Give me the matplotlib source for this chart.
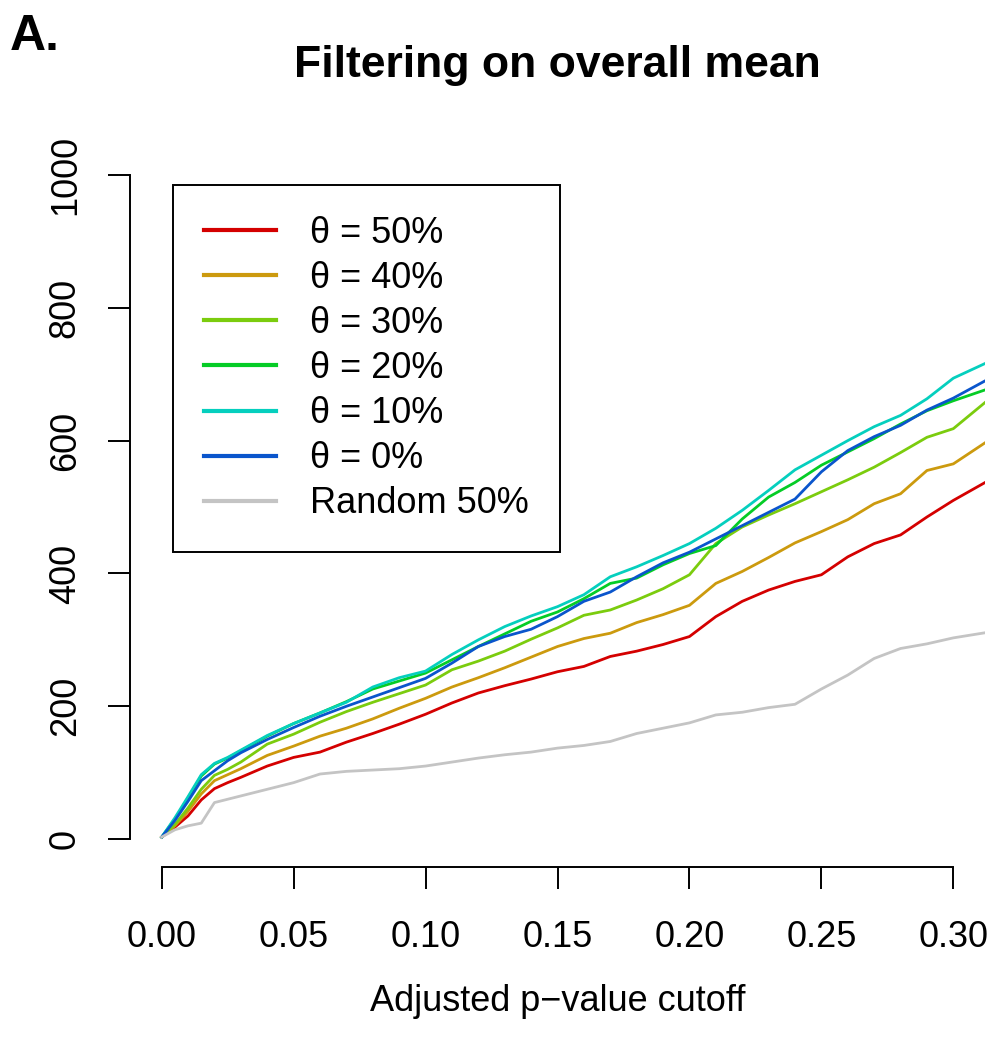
import numpy as np
import matplotlib
matplotlib.use("Agg")
import matplotlib.pyplot as plt

plt.rcParams['font.family'] = ['Liberation Sans', 'DejaVu Sans']

# adjusted p-value cutoff where the curves were read
cutoff = [0, 0.005, 0.01, 0.015, 0.02, 0.025, 0.03, 0.04, 0.05, 0.06, 0.07,
          0.08, 0.09, 0.10, 0.11, 0.12, 0.13, 0.14, 0.15, 0.16, 0.17, 0.18,
          0.19, 0.20, 0.21, 0.22, 0.23, 0.24, 0.25, 0.26, 0.27, 0.28, 0.29,
          0.30, 0.3125]

theta50 = [3, 18, 35, 59, 76, 85, 93, 110, 123, 131, 146, 159, 173, 188, 205,
           220, 231, 241, 252, 260, 275, 283, 293, 305, 335, 358, 375, 388,
           398, 425, 445, 458, 485, 510, 538]
theta40 = [3, 20, 42, 68, 88, 97, 106, 126, 140, 155, 167, 181, 197, 212, 229,
           243, 258, 274, 290, 302, 310, 326, 338, 352, 385, 403, 424, 446,
           463, 481, 505, 520, 555, 565, 598]
theta30 = [3, 22, 47, 75, 96, 105, 116, 143, 158, 176, 192, 206, 219, 232, 255,
           268, 283, 301, 318, 337, 345, 360, 377, 398, 445, 470, 488, 505,
           523, 541, 560, 582, 605, 618, 659]
theta20 = [3, 30, 62, 95, 113, 122, 133, 155, 174, 190, 207, 226, 238, 250, 270,
           290, 309, 328, 342, 362, 385, 393, 413, 430, 442, 482, 515, 537,
           563, 583, 603, 625, 645, 660, 677]
theta10 = [3, 32, 64, 97, 114, 123, 134, 156, 174, 190, 206, 229, 243, 253, 278,
           300, 320, 336, 350, 368, 395, 410, 427, 445, 468, 495, 525, 556,
           578, 600, 621, 638, 663, 694, 717]
theta0 = [3, 28, 57, 88, 103, 118, 130, 150, 168, 185, 200, 214, 228, 242, 265,
          290, 305, 316, 335, 358, 372, 395, 416, 432, 452, 472, 492, 512,
          553, 585, 606, 623, 646, 664, 691]
random50 = [3, 14, 20, 24, 55, 60, 65, 75, 85, 98, 102, 104, 106, 110, 116,
            122, 127, 131, 137, 141, 147, 159, 167, 175, 187, 191, 198, 203,
            226, 247, 272, 287, 294, 303, 311]

series = [theta50, theta40, theta30, theta20, theta10, theta0, random50]
labels = ["θ = 50%", "θ = 40%", "θ = 30%", "θ = 20%", "θ = 10%", "θ = 0%",
          "Random 50%"]
colors = ["#D40000", "#CC9A0E", "#7BCC0E", "#05CC26", "#05CFBE", "#0A55CC",
          "#C4C4C4"]

W, H = 994, 1048
fig = plt.figure(figsize=(W / 100, H / 100), dpi=100)
ax = fig.add_axes([130 / W, 1 - 867 / H, 855 / W, (867 - 148.4) / H])

for vals, lab, col in zip(series, labels, colors):
    ax.plot(cutoff, vals, color=col, lw=2.0, label=lab)

ax.set_xlim(-0.012, 0.312)
ax.set_ylim(-42, 1040)

for s in ['top', 'right']:
    ax.spines[s].set_visible(False)
ax.spines['left'].set_bounds(0, 1000)
ax.spines['bottom'].set_bounds(0, 0.3)
for s in ['left', 'bottom']:
    ax.spines[s].set_linewidth(1.4)

ax.set_xticks([0, 0.05, 0.10, 0.15, 0.20, 0.25, 0.30])
ax.set_xticklabels(["0.00", "0.05", "0.10", "0.15", "0.20", "0.25", "0.30"])
ax.set_yticks([0, 200, 400, 600, 800, 1000])
ax.tick_params(axis='both', length=16, width=1.4, labelsize=26)
ax.tick_params(axis='x', pad=22)
ax.tick_params(axis='y', pad=18)
for t in ax.get_yticklabels():
    t.set_rotation(90)
    t.set_va('center')

leg = ax.legend(loc='upper left', bbox_to_anchor=(173 / W, 1 - 185 / H),
                bbox_transform=fig.transFigure, borderaxespad=0,
                fontsize=26, handlelength=2.0, handletextpad=0.95,
                labelspacing=0.28, borderpad=0.85, fancybox=False,
                edgecolor='black', framealpha=1)
leg.get_frame().set_linewidth(1.4)
for h in leg.get_lines():
    h.set_linewidth(3)

fig.text(557.5 / W, 1 - 77 / H, "Filtering on overall mean", ha='center',
         va='baseline', fontsize=32, fontweight='bold')
fig.text(10 / W, 1 - 50 / H, "A.", ha='left', va='baseline', fontsize=36,
         fontweight='bold')
fig.text(557.5 / W, 1 - 1011 / H, "Adjusted p\u2212value cutoff", ha='center',
         va='baseline', fontsize=26)

fig.savefig("out.png", dpi=100)
